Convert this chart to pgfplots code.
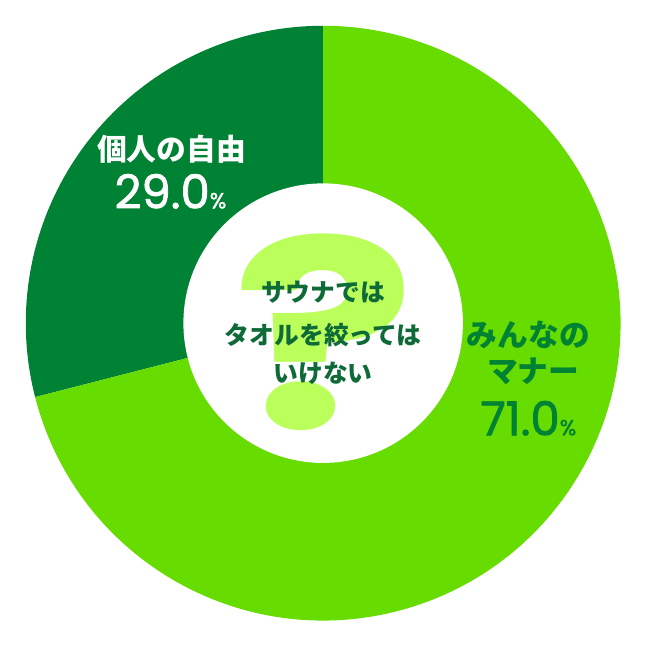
\documentclass[border=0pt]{standalone}
\usepackage{fontspec}
\usepackage{pgfplots}
\usepackage{pgfplotstable}
\pgfplotsset{compat=1.18}
\setmainfont{Noto Sans CJK JP}
\newfontfamily\numfont{Poppins}[FakeBold=1.6]
\newfontfamily\qfont{Poppins}
\definecolor{lightg}{HTML}{66DC00}
\definecolor{darkg}{HTML}{008234}
\definecolor{qmark}{HTML}{BBFF5A}
\definecolor{ctext}{HTML}{0E6B38}

\pgfplotstableread{
label value
manner 71.0
jiyuu 29.0
}\sharetable

\begin{document}
\begin{tikzpicture}
\pgfplotstablegetelem{0}{value}\of\sharetable \let\valA\pgfplotsretval
\pgfplotstablegetelem{1}{value}\of\sharetable \let\valB\pgfplotsretval
\pgfmathsetmacro{\angB}{90+3.6*\valB}
\begin{axis}[
    hide axis,
    scale only axis,
    width=652pt, height=652pt,
    xmin=-326, xmax=326, ymin=-326, ymax=326,
    clip=false,
]
\addplot[draw=none] coordinates {(-326,-326) (326,326)};
% dark slice (29.0)
\fill[darkg, shift={(axis cs:0,0)}]
    (0pt,0pt) -- (90:300pt) arc[start angle=90, end angle=\angB, radius=300pt] -- cycle;
% light slice (71.0)
\fill[lightg, shift={(axis cs:0,0)}]
    (0pt,0pt) -- (\angB:300pt) arc[start angle=\angB, end angle=450, radius=300pt] -- cycle;
% hole
\fill[white] (axis cs:0,0) circle[radius=141pt];
% question mark
\node[text=qmark, font=\qfont\bfseries\fontsize{265}{265}\selectfont, inner sep=0pt, xscale=1.3] at (axis cs:1,-9) {?};
% center text
\node[text=ctext, font=\fontsize{25}{25}\selectfont\bfseries, inner sep=0pt] at (axis cs:0,31) {サウナでは};
\node[text=ctext, font=\fontsize{25}{25}\selectfont\bfseries, inner sep=0pt] at (axis cs:0,-12) {タオルを絞っては};
\node[text=ctext, font=\fontsize{25}{25}\selectfont\bfseries, inner sep=0pt] at (axis cs:0,-51) {いけない};
% left label
\node[text=white, font=\fontsize{30}{30}\selectfont\bfseries, inner sep=0pt] at (axis cs:-153,175) {個人の自由};
\node[text=white, inner sep=0pt] at (axis cs:-154,133) {\numfont\fontsize{47}{47}\selectfont 29.0\fontsize{22}{22}\selectfont\%};
% right label
\node[text=darkg, font=\fontsize{31}{31}\selectfont\bfseries, inner sep=0pt] at (axis cs:207,-12) {みんなの};
\node[text=darkg, font=\fontsize{31}{31}\selectfont\bfseries, inner sep=0pt] at (axis cs:212,-49) {マナー};
\node[text=darkg, inner sep=0pt] at (axis cs:207,-96) {\numfont\fontsize{47}{47}\selectfont 71.0\fontsize{22}{22}\selectfont\%};
\end{axis}
\end{tikzpicture}
\end{document}
